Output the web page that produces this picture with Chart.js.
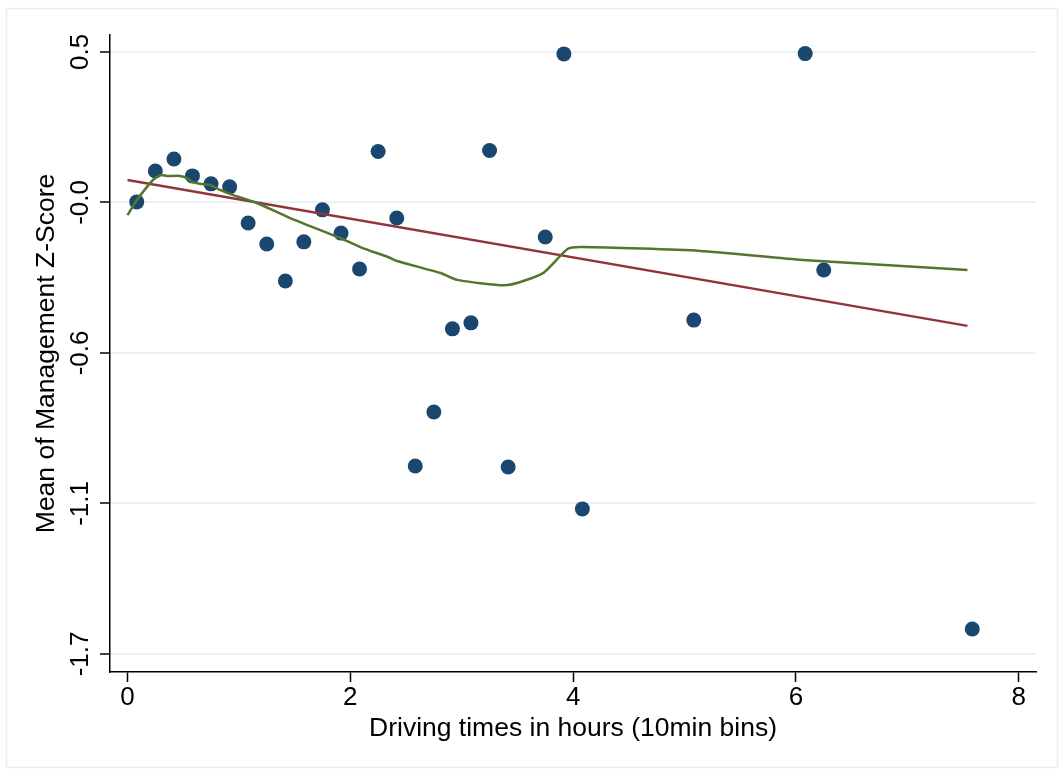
<!DOCTYPE html>
<html>
<head>
    <title>Management Z-Score vs Driving Time</title>
    <script src="https://cdn.jsdelivr.net/npm/chart.js"></script>
    <style>
        body { margin: 0; background: #fff; }
        #wrap { width: 1059px; height: 769px; }
    </style>
</head>
<body>
    <div id="wrap"><canvas id="zChart"></canvas></div>

    <script>
        // binned scatter: driving time (h, 10min bin midpoints) vs mean z-score
        const binHours = [0.083, 0.25, 0.417, 0.583, 0.75, 0.917, 1.083, 1.25, 1.417, 1.583,
                          1.75, 1.917, 2.083, 2.25, 2.417, 2.583, 2.75, 2.917, 3.083, 3.25,
                          3.417, 3.75, 3.917, 4.083, 5.083, 6.083, 6.25, 7.583];
        const meanZ = [-0.048, 0.065, 0.109, 0.047, 0.018, 0.007, -0.125, -0.202, -0.337, -0.194,
                       -0.077, -0.162, -0.293, 0.136, -0.107, -1.013, -0.816, -0.512, -0.490, 0.140,
                       -1.017, -0.176, 0.493, -1.170, -0.480, 0.494, -0.297, -1.609];

        // linear fit end points
        const fitX = [0, 7.54];
        const fitY = [0.032, -0.501];

        // lowess smoother
        const lowessX = [0, 0.085, 0.175, 0.229, 0.30, 0.355, 0.47, 0.535, 0.58, 0.65, 0.74, 0.83,
                         0.95, 1.16, 1.46, 1.91, 2.09, 2.36, 2.42, 2.81, 2.96, 3.41, 3.73, 3.95,
                         4.08, 5.14, 6.06, 7.54];
        const lowessY = [-0.096, -0.041, 0.007, 0.032, 0.050, 0.047, 0.047, 0.039, 0.025, 0.018,
                         0.014, -0.004, -0.023, -0.052, -0.107, -0.180, -0.213, -0.253, -0.264,
                         -0.308, -0.333, -0.352, -0.308, -0.220, -0.213, -0.227, -0.260, -0.297];

        const yTicks = [0.5, -0.05, -0.6, -1.15, -1.7];
        const yTickLabels = ['0.5', '-0.0', '-0.6', '-1.1', '-1.7'];
        const xTicks = [0, 2, 4, 6, 8];

        const FONT = "'Liberation Sans', Arial, sans-serif";
        const toPts = (xs, ys) => xs.map((x, i) => ({ x: x, y: ys[i] }));

        const frame = {
            id: 'frame',
            beforeDraw(chart) {
                const c = chart.ctx;
                c.save();
                c.fillStyle = '#fff';
                c.fillRect(0, 0, chart.width, chart.height);
                c.strokeStyle = '#e8eff1';
                c.lineWidth = 1.5;
                c.strokeRect(6.5, 8.5, 1051, 759);
                c.restore();
            }
        };

        // vertical y tick labels, centred on their ticks (Stata style)
        const yLabels = {
            id: 'yLabels',
            afterDraw(chart) {
                const c = chart.ctx, s = chart.scales.y;
                c.save();
                c.fillStyle = '#000';
                c.font = '26px ' + FONT;
                c.textAlign = 'center';
                c.textBaseline = 'alphabetic';
                yTicks.forEach((v, i) => {
                    c.save();
                    c.translate(88, s.getPixelForValue(v));
                    c.rotate(-Math.PI / 2);
                    c.fillText(yTickLabels[i], 0, 0);
                    c.restore();
                });
                c.restore();
            }
        };

        new Chart(document.getElementById('zChart'), {
            type: 'scatter',
            data: {
                datasets: [
                    {
                        label: 'lowess',
                        data: toPts(lowessX, lowessY),
                        showLine: true,
                        borderColor: '#55752f',
                        borderWidth: 2.5,
                        pointRadius: 0,
                        tension: 0.2
                    },
                    {
                        label: 'fit',
                        data: toPts(fitX, fitY),
                        showLine: true,
                        borderColor: '#90353b',
                        borderWidth: 2.5,
                        pointRadius: 0
                    },
                    {
                        label: 'mean z',
                        data: toPts(binHours, meanZ),
                        pointRadius: 7.5,
                        pointBackgroundColor: '#1a476f',
                        pointBorderWidth: 0
                    }
                ]
            },
            options: {
                responsive: true,
                maintainAspectRatio: false,
                animation: false,
                layout: { padding: { left: 6, right: 23, top: 35, bottom: 0 } },
                plugins: {
                    legend: { display: false },
                    tooltip: { enabled: false }
                },
                scales: {
                    x: {
                        type: 'linear',
                        min: -0.157,
                        max: 8.155,
                        afterBuildTicks: s => { s.ticks = xTicks.map(v => ({ value: v })); },
                        afterFit: s => { s.height = 97; },
                        border: { color: '#000', width: 1.5 },
                        grid: { drawOnChartArea: false, tickColor: '#000', tickLength: 10, tickWidth: 1.5 },
                        ticks: {
                            color: '#000',
                            font: { family: FONT, size: 26 },
                            padding: 0,
                            maxRotation: 0
                        },
                        title: {
                            display: true,
                            text: 'Driving times in hours (10min bins)',
                            color: '#000',
                            font: { family: FONT, size: 26.5 },
                            padding: { top: 24, bottom: 24 }
                        }
                    },
                    y: {
                        type: 'linear',
                        min: -1.766,
                        max: 0.562,
                        afterBuildTicks: s => { s.ticks = yTicks.map(v => ({ value: v })); },
                        afterFit: s => { s.width = 104; },
                        border: { color: '#000', width: 1.5 },
                        grid: { color: '#eaf2f3', lineWidth: 2, tickColor: '#000', tickLength: 10, tickWidth: 1.5 },
                        ticks: { display: false },
                        title: {
                            display: true,
                            text: 'Mean of Management Z-Score',
                            color: '#000',
                            font: { family: FONT, size: 26.5 },
                            padding: { top: 25, bottom: 25 }
                        }
                    }
                }
            },
            plugins: [frame, yLabels]
        });
    </script>
</body>
</html>
